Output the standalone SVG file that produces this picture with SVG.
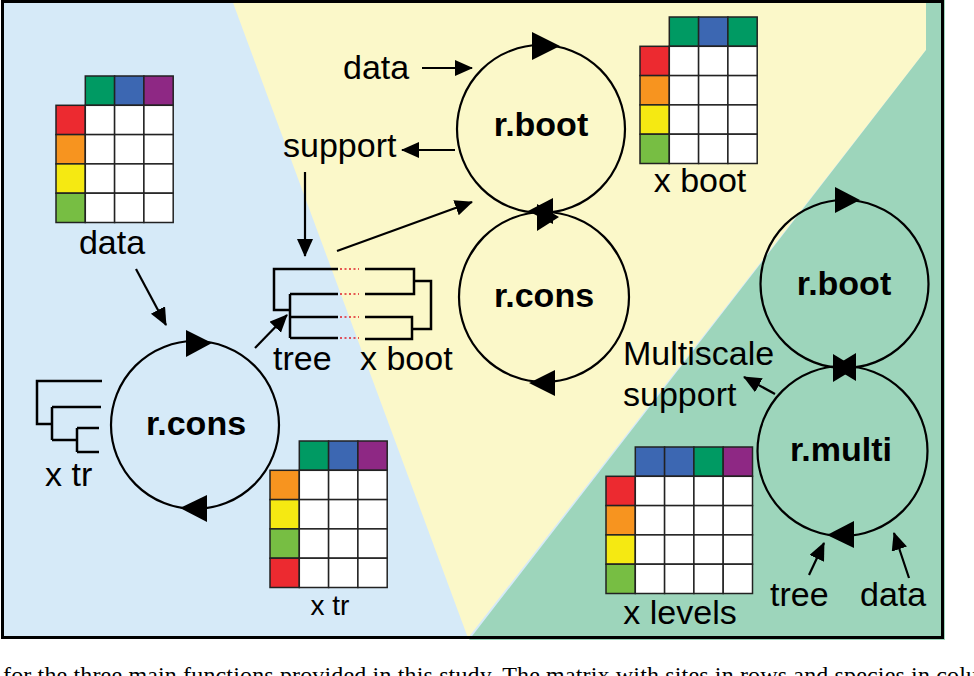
<svg xmlns="http://www.w3.org/2000/svg" width="974" height="676" viewBox="0 0 974 676">
<style>
text{font-family:"Liberation Sans",Arial,Helvetica,sans-serif;font-size:34px;fill:#000}
.b{font-weight:bold}
.m{text-anchor:middle}
.cap{font-family:"Liberation Serif","Times New Roman",serif;font-size:24px}
.ring{fill:none;stroke:#000;stroke-width:2.2}
.head{fill:#000;stroke:none}
.tree{fill:none;stroke:#000;stroke-width:2.5}
.dots{fill:none;stroke:#e0202a;stroke-width:1.6;stroke-dasharray:2 2.5}
.con{fill:none;stroke:#000;stroke-width:2.2}
.cell{stroke:#222;stroke-width:1.5}
.w{fill:#fff}.G{fill:#009a63}.B{fill:#3c67b2}.P{fill:#8e2884}.R{fill:#ec2a30}.O{fill:#f7941f}.Y{fill:#f5e912}.L{fill:#77be43}
</style>
<defs>
<marker id="ah" markerUnits="userSpaceOnUse" markerWidth="19" markerHeight="17" refX="17" refY="8" orient="auto">
<path d="M0,0 L18,8 L0,16 z" fill="#000"/>
</marker>
</defs>

<!-- background -->
<rect x="2" y="1" width="941" height="637" fill="#d6eaf8"/>
<polygon points="232,0 926,0 926,50 468,638" fill="#fbf8c9"/>
<polygon points="926,0 945,0 945,640 469,640 926,50" fill="#9dd5bb"/>
<rect x="2.5" y="1.5" width="940" height="636" fill="none" stroke="#000" stroke-width="3"/>

<!-- matrices -->
<g id="matrix-data" transform="translate(56,76)">
<rect class="cell G" x="29.3" y="0" width="29.3" height="29.3"/><rect class="cell B" x="58.6" y="0" width="29.3" height="29.3"/><rect class="cell P" x="87.9" y="0" width="29.3" height="29.3"/>
<rect class="cell R" x="0" y="29.3" width="29.3" height="29.3"/><rect class="cell O" x="0" y="58.6" width="29.3" height="29.3"/><rect class="cell Y" x="0" y="87.9" width="29.3" height="29.3"/><rect class="cell L" x="0" y="117.2" width="29.3" height="29.3"/>
<g class="cell w">
<rect x="29.3" y="29.3" width="29.3" height="29.3"/><rect x="58.6" y="29.3" width="29.3" height="29.3"/><rect x="87.9" y="29.3" width="29.3" height="29.3"/>
<rect x="29.3" y="58.6" width="29.3" height="29.3"/><rect x="58.6" y="58.6" width="29.3" height="29.3"/><rect x="87.9" y="58.6" width="29.3" height="29.3"/>
<rect x="29.3" y="87.9" width="29.3" height="29.3"/><rect x="58.6" y="87.9" width="29.3" height="29.3"/><rect x="87.9" y="87.9" width="29.3" height="29.3"/>
<rect x="29.3" y="117.2" width="29.3" height="29.3"/><rect x="58.6" y="117.2" width="29.3" height="29.3"/><rect x="87.9" y="117.2" width="29.3" height="29.3"/>
</g>
<text class="m" x="56" y="178">data</text>
</g>

<g id="matrix-xboot" transform="translate(640,17)">
<rect class="cell G" x="29.3" y="0" width="29.3" height="29.3"/><rect class="cell B" x="58.6" y="0" width="29.3" height="29.3"/><rect class="cell G" x="87.9" y="0" width="29.3" height="29.3"/>
<rect class="cell R" x="0" y="29.3" width="29.3" height="29.3"/><rect class="cell O" x="0" y="58.6" width="29.3" height="29.3"/><rect class="cell Y" x="0" y="87.9" width="29.3" height="29.3"/><rect class="cell L" x="0" y="117.2" width="29.3" height="29.3"/>
<g class="cell w">
<rect x="29.3" y="29.3" width="29.3" height="29.3"/><rect x="58.6" y="29.3" width="29.3" height="29.3"/><rect x="87.9" y="29.3" width="29.3" height="29.3"/>
<rect x="29.3" y="58.6" width="29.3" height="29.3"/><rect x="58.6" y="58.6" width="29.3" height="29.3"/><rect x="87.9" y="58.6" width="29.3" height="29.3"/>
<rect x="29.3" y="87.9" width="29.3" height="29.3"/><rect x="58.6" y="87.9" width="29.3" height="29.3"/><rect x="87.9" y="87.9" width="29.3" height="29.3"/>
<rect x="29.3" y="117.2" width="29.3" height="29.3"/><rect x="58.6" y="117.2" width="29.3" height="29.3"/><rect x="87.9" y="117.2" width="29.3" height="29.3"/>
</g>
<text class="m" x="60" y="175">x boot</text>
</g>

<g id="matrix-xtr" transform="translate(270,441)">
<rect class="cell G" x="29.3" y="0" width="29.3" height="29.3"/><rect class="cell B" x="58.6" y="0" width="29.3" height="29.3"/><rect class="cell P" x="87.9" y="0" width="29.3" height="29.3"/>
<rect class="cell O" x="0" y="29.3" width="29.3" height="29.3"/><rect class="cell Y" x="0" y="58.6" width="29.3" height="29.3"/><rect class="cell L" x="0" y="87.9" width="29.3" height="29.3"/><rect class="cell R" x="0" y="117.2" width="29.3" height="29.3"/>
<g class="cell w">
<rect x="29.3" y="29.3" width="29.3" height="29.3"/><rect x="58.6" y="29.3" width="29.3" height="29.3"/><rect x="87.9" y="29.3" width="29.3" height="29.3"/>
<rect x="29.3" y="58.6" width="29.3" height="29.3"/><rect x="58.6" y="58.6" width="29.3" height="29.3"/><rect x="87.9" y="58.6" width="29.3" height="29.3"/>
<rect x="29.3" y="87.9" width="29.3" height="29.3"/><rect x="58.6" y="87.9" width="29.3" height="29.3"/><rect x="87.9" y="87.9" width="29.3" height="29.3"/>
<rect x="29.3" y="117.2" width="29.3" height="29.3"/><rect x="58.6" y="117.2" width="29.3" height="29.3"/><rect x="87.9" y="117.2" width="29.3" height="29.3"/>
</g>
<text class="m" x="60" y="174" style="font-size:28px">x tr</text>
</g>

<g id="matrix-xlevels" transform="translate(606,447)">
<rect class="cell B" x="29.3" y="0" width="29.3" height="29.3"/><rect class="cell B" x="58.6" y="0" width="29.3" height="29.3"/><rect class="cell G" x="87.9" y="0" width="29.3" height="29.3"/><rect class="cell P" x="117.2" y="0" width="29.3" height="29.3"/>
<rect class="cell R" x="0" y="29.3" width="29.3" height="29.3"/><rect class="cell O" x="0" y="58.6" width="29.3" height="29.3"/><rect class="cell Y" x="0" y="87.9" width="29.3" height="29.3"/><rect class="cell L" x="0" y="117.2" width="29.3" height="29.3"/>
<g class="cell w">
<rect x="29.3" y="29.3" width="29.3" height="29.3"/><rect x="58.6" y="29.3" width="29.3" height="29.3"/><rect x="87.9" y="29.3" width="29.3" height="29.3"/><rect x="117.2" y="29.3" width="29.3" height="29.3"/>
<rect x="29.3" y="58.6" width="29.3" height="29.3"/><rect x="58.6" y="58.6" width="29.3" height="29.3"/><rect x="87.9" y="58.6" width="29.3" height="29.3"/><rect x="117.2" y="58.6" width="29.3" height="29.3"/>
<rect x="29.3" y="87.9" width="29.3" height="29.3"/><rect x="58.6" y="87.9" width="29.3" height="29.3"/><rect x="87.9" y="87.9" width="29.3" height="29.3"/><rect x="117.2" y="87.9" width="29.3" height="29.3"/>
<rect x="29.3" y="117.2" width="29.3" height="29.3"/><rect x="58.6" y="117.2" width="29.3" height="29.3"/><rect x="87.9" y="117.2" width="29.3" height="29.3"/><rect x="117.2" y="117.2" width="29.3" height="29.3"/>
</g>
<text class="m" x="74" y="177">x levels</text>
</g>

<!-- trees -->
<g id="tree-boot">
<path class="tree" d="M338,269 H274 V310 H290 M290,294 V338 M290,294 H338 M290,317 H338 M290,338 H338"/>
<path class="dots" d="M340,269 H359 M340,294 H359 M340,317 H359 M340,338 H359"/>
<path class="tree" d="M365,269 H414 V294 H365 M414,281 H431 V329 H412 M365,317 H412 V339 H365"/>
<text x="273" y="370">tree</text>
<text x="360" y="370">x boot</text>
</g>

<g id="tree-xtr">
<path class="tree" d="M102,381 H37 V424 H52 M52,407 V440 M52,407 H101 M52,440 H77 M77,428 V452 M77,428 H99 M77,452 H99"/>
<text x="45" y="486">x tr</text>
</g>

<!-- cycle nodes -->
<g id="rcons-left">
<circle class="ring" cx="195" cy="425" r="84"/>
<polygon class="head" points="186,330 186,357 212,343"/>
<polygon class="head" points="180,508 207,495 207,522"/>
<text class="b m" x="196" y="435">r.cons</text>
</g>

<g id="rboot-top">
<circle class="ring" cx="541" cy="129" r="84"/>
<polygon class="head" points="532,32 532,60 560,46"/>
<polygon class="head" points="528,211 553,198 553,224"/>
<text class="b m" x="541" y="136">r.boot</text>
</g>

<g id="rcons-mid">
<circle class="ring" cx="544" cy="297" r="85"/>
<polygon class="head" points="537,204 537,231 559,217"/>
<polygon class="head" points="529,383 555,370 555,396"/>
<text class="b m" x="544" y="307">r.cons</text>
</g>

<g id="rboot-right">
<circle class="ring" cx="844.5" cy="284" r="84"/>
<polygon class="head" points="835,187 835,213 860,200"/>
<polygon class="head" points="833,367 856,353 856,381"/>
<text class="b m" x="844" y="295">r.boot</text>
</g>

<g id="rmulti">
<circle class="ring" cx="842.5" cy="451" r="85"/>
<polygon class="head" points="833,354 833,382 856,368"/>
<polygon class="head" points="827,535 854,521 854,548"/>
<text class="b m" x="841" y="461">r.multi</text>
</g>

<!-- free labels -->
<g id="labels">
<text x="343" y="79">data</text>
<text x="283" y="157">support</text>
<text x="623" y="365">Multiscale</text>
<text x="623" y="406">support</text>
<text x="770" y="606">tree</text>
<text x="860" y="606">data</text>
</g>

<!-- connectors -->
<g id="connectors">
<line class="con" x1="422" y1="68" x2="472" y2="68" marker-end="url(#ah)"/>
<line class="con" x1="455" y1="150" x2="402" y2="150" marker-end="url(#ah)"/>
<line class="con" x1="305" y1="172" x2="305" y2="256" marker-end="url(#ah)"/>
<line class="con" x1="337" y1="251" x2="472" y2="202" marker-end="url(#ah)"/>
<line class="con" x1="136" y1="269" x2="166" y2="325" marker-end="url(#ah)"/>
<line class="con" x1="255" y1="348" x2="287" y2="315" marker-end="url(#ah)"/>
<line class="con" x1="775" y1="394" x2="744" y2="377" marker-end="url(#ah)"/>
<line class="con" x1="809" y1="575" x2="824" y2="543" marker-end="url(#ah)"/>
<line class="con" x1="909" y1="578" x2="894" y2="533" marker-end="url(#ah)"/>
</g>

<text class="cap" x="3" y="683" textLength="975" lengthAdjust="spacing">for the three main functions provided in this study. The matrix with sites in rows and species in colu</text>
</svg>
